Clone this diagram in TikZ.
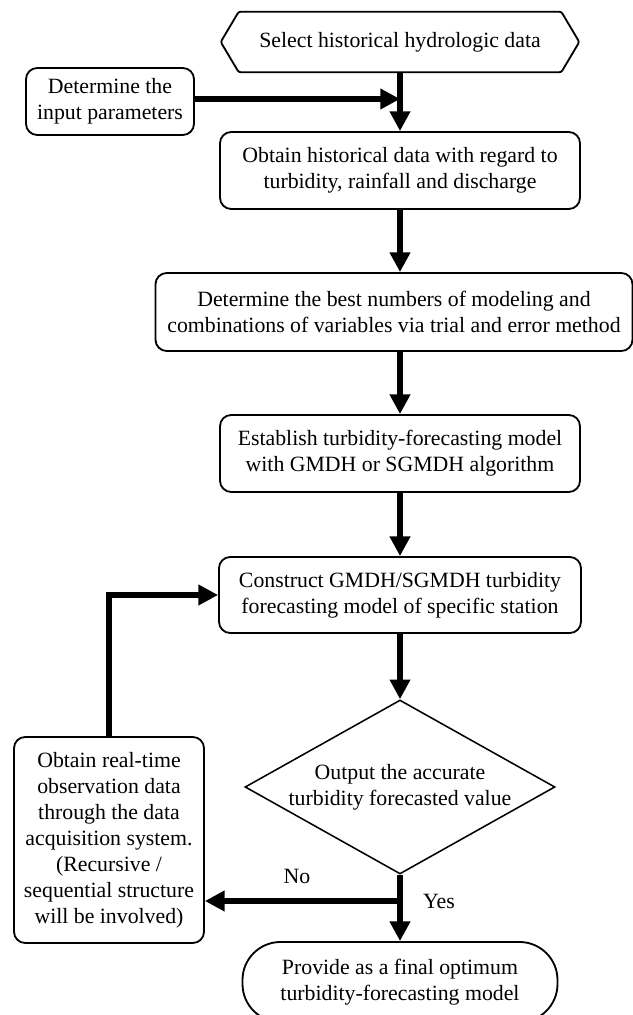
\documentclass[tikz,border=0pt]{standalone}
\usepackage{fontspec}
\setmainfont{Liberation Serif}
\usetikzlibrary{shapes.geometric,arrows.meta,positioning}

\begin{document}
\begin{tikzpicture}[txt/.style={font=\fontsize{15.5}{18.5}\selectfont, align=center, inner sep=0pt},
	box/.style={txt, draw, line width=1.3pt, rounded corners=8pt},
	conn/.style={line width=3.8pt, -{Triangle[length=14pt,width=14pt]}},
	plain/.style={line width=3.8pt}]

	\useasboundingbox (0,0) rectangle (15.825,25.375);

	\node[txt, minimum width=8.95cm, minimum height=1.5cm] (sel) at (10,24.325) {Select historical hydrologic data};
	\draw[line width=1.3pt, rounded corners=1.5pt] ([xshift=0.45cm]sel.north west) -- ([xshift=-0.45cm]sel.north east) -- (sel.east) -- ([xshift=-0.45cm]sel.south east) -- ([xshift=0.45cm]sel.south west) -- (sel.west) -- cycle;

	\node[box, minimum width=4.2cm, minimum height=1.675cm] (inp) at (2.75,22.8375) {Determine the\\input parameters};
	\node[box, minimum width=9cm, minimum height=1.925cm] (obt) at (10,21.1125) {Obtain historical data with regard to\\turbidity, rainfall and discharge};
	\node[box, minimum width=11.925cm, minimum height=1.95cm] (best) at (9.85,17.575) {Determine the best numbers of modeling and\\combinations of variables via trial and error method};
	\node[box, minimum width=9cm, minimum height=1.925cm] (est) at (10,14.0375) {Establish turbidity-forecasting model\\with GMDH or SGMDH algorithm};
	\node[box, minimum width=9.05cm, minimum height=1.9cm] (con) at (10,10.5) {Construct GMDH/SGMDH turbidity\\forecasting model of specific station};
	\node[txt, draw, diamond, shape aspect=1.78, line width=1.1pt, minimum width=7.75cm, minimum height=4.35cm] (out) at (10,5.7) {Output the accurate\\turbidity forecasted value};
	\node[box, minimum width=4.75cm, minimum height=5.15cm] (obs) at (2.725,4.375) {Obtain real-time\\observation data\\through the data\\acquisition system.\\(Recursive /\\sequential structure\\will be involved)};
	\node[box, rounded corners=0.95cm, minimum width=7.875cm, minimum height=2cm] (fin) at (10,0.825) {Provide as a final optimum\\turbidity-forecasting model};

	\coordinate (j1) at (10,22.9);
	\coordinate (j2) at (10,2.85);

	\node[txt] (no) at (7.425,3.475) {No};
	\node[txt] (yes) at (10.975,2.85) {Yes};

	\draw[conn] (sel.south) -- (obt.north);
	\draw[conn] (inp.east |- j1) -- (j1);
	\draw[conn] (obt.south) -- (obt.south |- best.north);
	\draw[conn] (est.north |- best.south) -- (est.north);
	\draw[conn] (est.south) -- (con.north);
	\draw[conn] (con.south) -- (out.north);
	\draw[conn] (out.south) -- (fin.north);
	\draw[conn] (j2) -- (obs.east |- j2);
	\draw[conn] (obs.north) |- (con.west);

\end{tikzpicture}
\end{document}
